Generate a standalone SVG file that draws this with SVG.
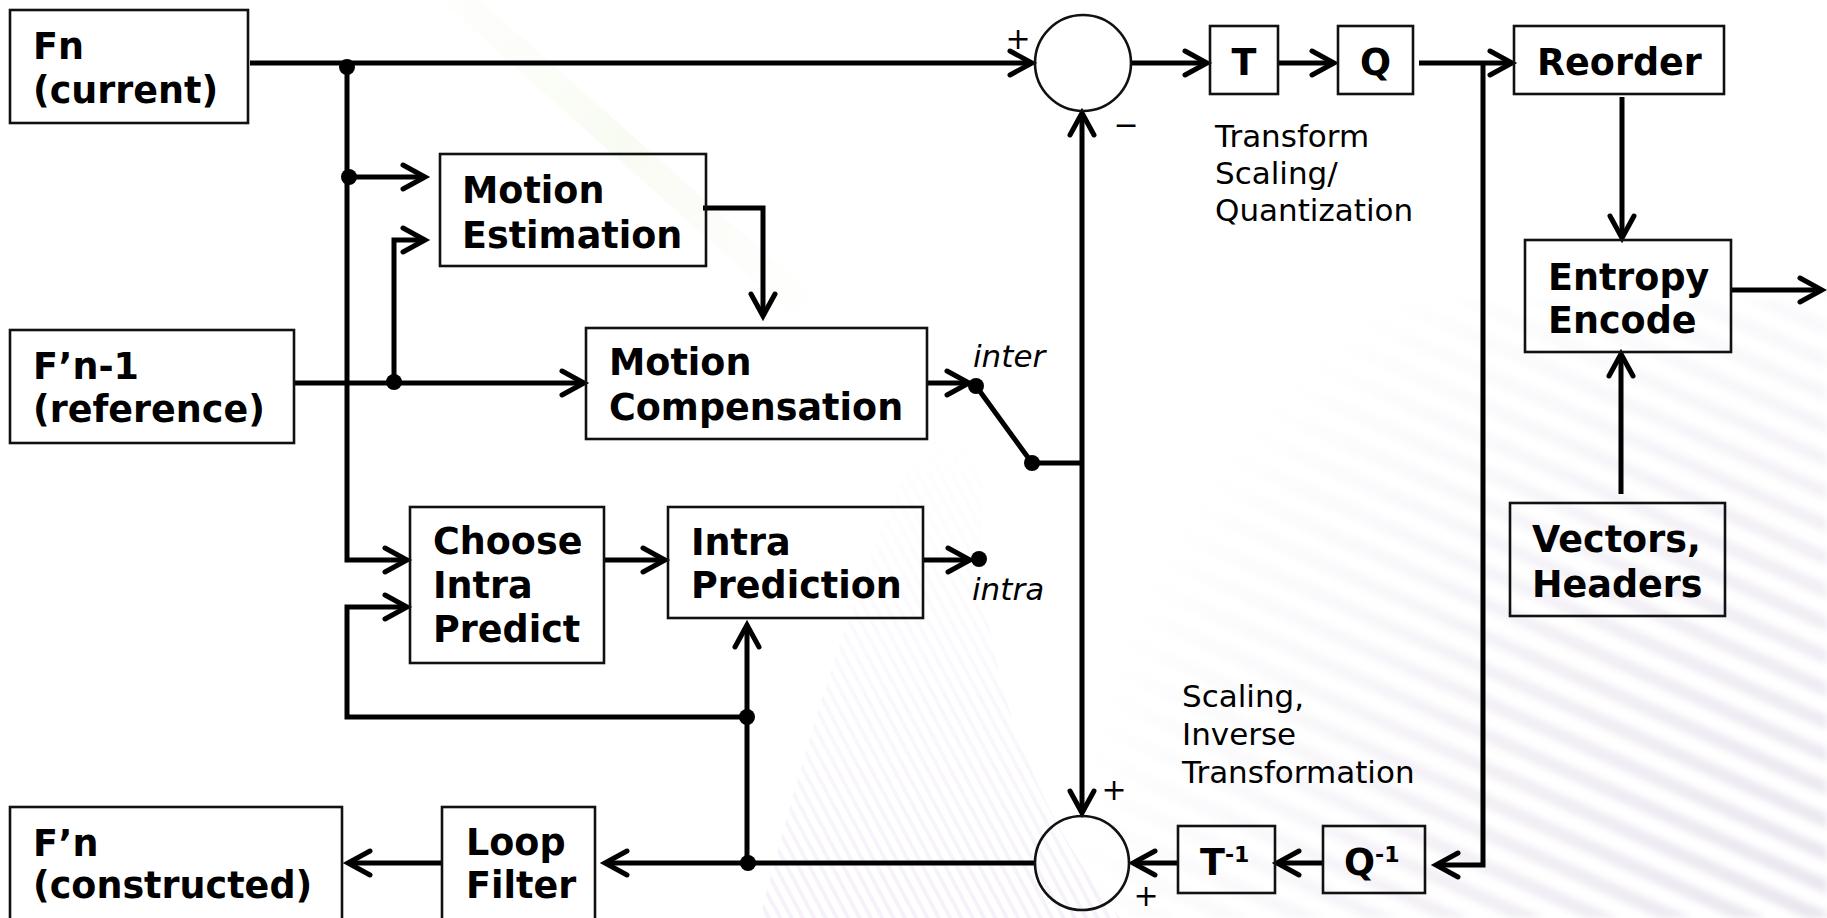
<svg xmlns="http://www.w3.org/2000/svg" width="1827" height="918" viewBox="0 0 1827 918">
  <defs>
    <style>
      .box { fill: none; stroke: #111; stroke-width: 2.6; }
      .sum { fill: none; stroke: #111; stroke-width: 2.6; }
      .wire { fill: none; stroke: #000; stroke-width: 5; stroke-linejoin: miter; }
      .arr { marker-end: url(#head); }
      .dot { fill: #000; }
      .lbl { font-family: "DejaVu Sans", Verdana, sans-serif; font-weight: bold; font-size: 36.5px; fill: #000; }
      .sup { font-size: 22px; }
      .note { font-family: "DejaVu Sans", Verdana, sans-serif; font-size: 31px; fill: #000; }
      .sel { font-family: "DejaVu Sans", Verdana, sans-serif; font-style: italic; font-size: 31px; fill: #000; }
      .sign { font-family: "DejaVu Sans", Verdana, sans-serif; font-size: 30px; fill: #000; text-anchor: middle; }
    </style>
    <marker id="head" markerUnits="userSpaceOnUse" markerWidth="40" markerHeight="40" viewBox="-30 -20 40 40" refX="0" refY="0" orient="auto" overflow="visible">
      <path d="M-22,-12 L0,0 L-22,12" fill="none" stroke="#000" stroke-width="5" stroke-linecap="round" stroke-linejoin="miter"/>
    </marker>
    <!-- background streaks -->
    <pattern id="streakLow" width="30" height="30" patternUnits="userSpaceOnUse" patternTransform="rotate(24)">
      <rect width="30" height="14" fill="#e6e1ec"/>
    </pattern>
    <pattern id="streakMid" width="10" height="10" patternUnits="userSpaceOnUse" patternTransform="rotate(62)">
      <rect width="10" height="4" fill="#efe6f6"/>
    </pattern>
    <filter id="soft" x="-5%" y="-5%" width="110%" height="110%">
      <feGaussianBlur stdDeviation="3"/>
    </filter>
    <radialGradient id="fadeLow" gradientUnits="userSpaceOnUse" cx="1827" cy="918" r="760">
      <stop offset="0" stop-color="#fff" stop-opacity="0.85"/>
      <stop offset="0.5" stop-color="#fff" stop-opacity="0.5"/>
      <stop offset="1" stop-color="#fff" stop-opacity="0"/>
    </radialGradient>
    <linearGradient id="fadeMid" gradientUnits="userSpaceOnUse" x1="0" y1="918" x2="0" y2="420">
      <stop offset="0" stop-color="#fff" stop-opacity="0.55"/>
      <stop offset="1" stop-color="#fff" stop-opacity="0"/>
    </linearGradient>
    <linearGradient id="greenHaze" gradientUnits="userSpaceOnUse" x1="380" y1="0" x2="820" y2="330">
      <stop offset="0" stop-color="#f6faee" stop-opacity="0"/>
      <stop offset="0.5" stop-color="#f4f9ea" stop-opacity="0.6"/>
      <stop offset="1" stop-color="#f8f6f0" stop-opacity="0"/>
    </linearGradient>
    <mask id="maskLow"><rect width="1827" height="918" fill="url(#fadeLow)"/></mask>
    <mask id="maskMid"><rect width="1827" height="918" fill="url(#fadeMid)"/></mask>
  </defs>

  <!-- backdrop -->
  <g id="backdrop">
    <rect width="1827" height="918" fill="#fff"/>
    <path d="M440,0 L480,0 L840,320 L810,330 Z" fill="url(#greenHaze)"/>
    <path d="M760,918 C800,760 860,560 930,420 L990,430 C960,600 1010,780 1120,918 Z" fill="url(#streakMid)" mask="url(#maskMid)"/>
    <g mask="url(#maskLow)">
      <rect x="1000" y="300" width="827" height="618" fill="url(#streakLow)" filter="url(#soft)"/>
    </g>
  </g>

  <!-- connectors -->
  <g id="connectors">
    <path class="wire arr" d="M250,63 H1032"/>
    <path class="wire arr" d="M347,63 V560 H407"/>
    <path class="wire arr" d="M347,177 H425"/>
    <path class="wire arr" d="M293,383 H584"/>
    <path class="wire arr" d="M394,383 V240 H425"/>
    <path class="wire arr" d="M703,208 H763 V316"/>
    <path class="wire arr" d="M927,383 H969"/>
    <path class="wire" d="M976,386 L1032,463 H1082"/>
    <path class="wire arr" d="M1082,463 V113"/>
    <path class="wire arr" d="M1082,463 V813"/>
    <path class="wire arr" d="M1131,63 H1207"/>
    <path class="wire arr" d="M1278,63 H1334"/>
    <path class="wire arr" d="M1419,63 H1512"/>
    <path class="wire arr" d="M1483,63 V865 H1436"/>
    <path class="wire arr" d="M1323,863 H1277"/>
    <path class="wire arr" d="M1178,863 H1133"/>
    <path class="wire arr" d="M1035,863 H605"/>
    <path class="wire arr" d="M747,863 V625"/>
    <path class="wire arr" d="M747,717 H347 V607 H407"/>
    <path class="wire arr" d="M442,863 H348"/>
    <path class="wire arr" d="M604,560 H665"/>
    <path class="wire arr" d="M923,560 H970"/>
    <path class="wire arr" d="M1622,97 V238"/>
    <path class="wire arr" d="M1731,290 H1822"/>
    <path class="wire arr" d="M1621,494 V354"/>
    <circle class="dot" cx="347" cy="67" r="8"/>
    <circle class="dot" cx="349" cy="177" r="8"/>
    <circle class="dot" cx="394" cy="382" r="8"/>
    <circle class="dot" cx="976" cy="386" r="8"/>
    <circle class="dot" cx="1032" cy="463" r="8"/>
    <circle class="dot" cx="979" cy="559" r="8"/>
    <circle class="dot" cx="747" cy="717" r="8"/>
    <circle class="dot" cx="748" cy="863" r="8"/>
    <text class="sel" x="973" y="367">inter</text>
    <text class="sel" x="972" y="600">intra</text>
    <text class="sign" x="1018" y="49">+</text>
    <text class="sign" x="1126" y="135">−</text>
    <text class="sign" x="1114" y="800">+</text>
    <text class="sign" x="1146" y="906">+</text>
  </g>

  <!-- nodes -->
  <g id="fn-current">
    <rect class="box" x="10" y="10" width="238" height="113"/>
    <text class="lbl" x="33" y="59">Fn</text>
    <text class="lbl" x="33" y="103">(current)</text>
  </g>
  <g id="motion-estimation">
    <rect class="box" x="440" y="154" width="266" height="112"/>
    <text class="lbl" x="462" y="203">Motion</text>
    <text class="lbl" x="462" y="248">Estimation</text>
  </g>
  <g id="fn1-reference">
    <rect class="box" x="10" y="330" width="284" height="113"/>
    <text class="lbl" x="33" y="379">F’n-1</text>
    <text class="lbl" x="33" y="422">(reference)</text>
  </g>
  <g id="motion-compensation">
    <rect class="box" x="586" y="328" width="341" height="111"/>
    <text class="lbl" x="609" y="375">Motion</text>
    <text class="lbl" x="609" y="420">Compensation</text>
  </g>
  <g id="choose-intra">
    <rect class="box" x="410" y="507" width="194" height="156"/>
    <text class="lbl" x="433" y="554">Choose</text>
    <text class="lbl" x="433" y="598">Intra</text>
    <text class="lbl" x="433" y="642">Predict</text>
  </g>
  <g id="intra-prediction">
    <rect class="box" x="668" y="507" width="255" height="111"/>
    <text class="lbl" x="691" y="555">Intra</text>
    <text class="lbl" x="691" y="598">Prediction</text>
  </g>
  <g id="fn-constructed">
    <rect class="box" x="10" y="807" width="332" height="130"/>
    <text class="lbl" x="33" y="856">F’n</text>
    <text class="lbl" x="33" y="898">(constructed)</text>
  </g>
  <g id="loop-filter">
    <rect class="box" x="442" y="807" width="153" height="130"/>
    <text class="lbl" x="466" y="855">Loop</text>
    <text class="lbl" x="466" y="898">Filter</text>
  </g>
  <g id="subtract">
    <circle class="sum" cx="1083" cy="63" r="48"/>
  </g>
  <g id="add">
    <circle class="sum" cx="1082" cy="863" r="47"/>
  </g>
  <g id="transform">
    <rect class="box" x="1210" y="26" width="68" height="68"/>
    <text class="lbl" x="1244" y="75" text-anchor="middle">T</text>
  </g>
  <g id="quantize">
    <rect class="box" x="1338" y="26" width="75" height="68"/>
    <text class="lbl" x="1375.5" y="75" text-anchor="middle">Q</text>
  </g>
  <g id="transform-note">
    <text class="note" x="1215" y="147">Transform</text>
    <text class="note" x="1215" y="184">Scaling/</text>
    <text class="note" x="1215" y="221">Quantization</text>
  </g>
  <g id="reorder">
    <rect class="box" x="1514" y="26" width="210" height="68"/>
    <text class="lbl" x="1537" y="75">Reorder</text>
  </g>
  <g id="entropy-encode">
    <rect class="box" x="1525" y="240" width="206" height="112"/>
    <text class="lbl" x="1548" y="290">Entropy</text>
    <text class="lbl" x="1548" y="333">Encode</text>
  </g>
  <g id="vectors-headers">
    <rect class="box" x="1510" y="503" width="215" height="113"/>
    <text class="lbl" x="1532" y="552">Vectors,</text>
    <text class="lbl" x="1532" y="597">Headers</text>
  </g>
  <g id="inverse-note">
    <text class="note" x="1182" y="707">Scaling,</text>
    <text class="note" x="1182" y="745">Inverse</text>
    <text class="note" x="1182" y="783">Transformation</text>
  </g>
  <g id="inverse-transform">
    <rect class="box" x="1178" y="826" width="97" height="67"/>
    <text class="lbl" x="1200" y="875">T<tspan class="sup" dy="-13">-1</tspan></text>
  </g>
  <g id="inverse-quantize">
    <rect class="box" x="1323" y="826" width="102" height="67"/>
    <text class="lbl" x="1344" y="875">Q<tspan class="sup" dy="-13">-1</tspan></text>
  </g>
</svg>
